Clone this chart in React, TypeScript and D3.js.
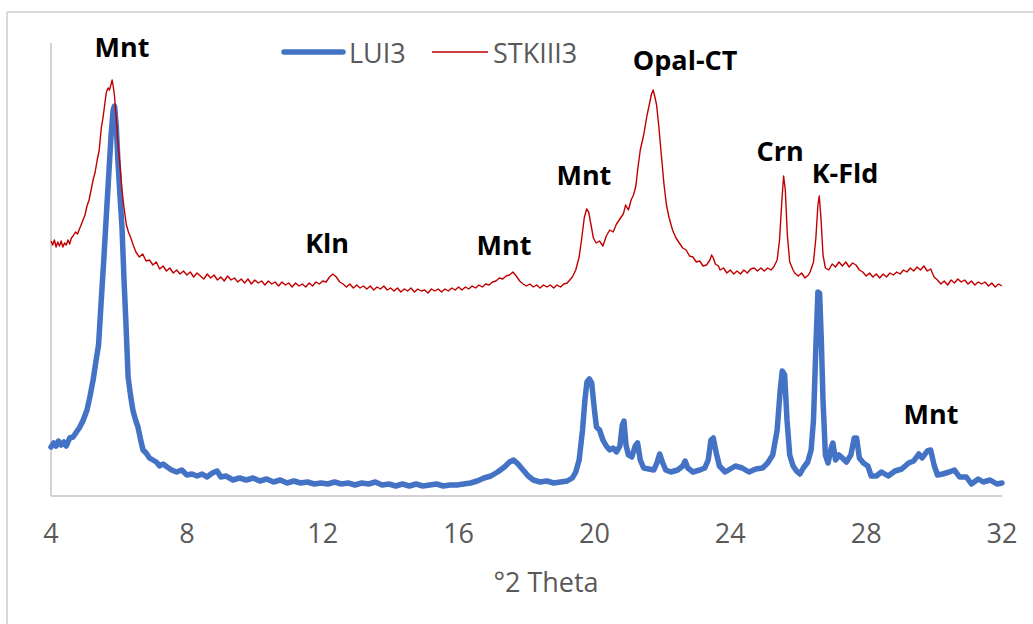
import React from "react";
import * as d3 from "d3";

// ---- data (2θ in degrees, intensity in arbitrary units) ----
const lui3Theta: number[] = [
  4.0, 4.08, 4.15, 4.22, 4.3, 4.38, 4.45, 4.55, 4.65, 4.75, 4.85, 4.95, 5.06, 5.15, 5.24, 5.32, 5.4, 5.48, 5.55, 5.63,
  5.7, 5.77, 5.83, 5.87, 5.92, 5.97, 6.03, 6.09, 6.15, 6.2, 6.27, 6.34, 6.41, 6.49, 6.56, 6.64, 6.71, 6.8, 6.9, 7.0,
  7.1, 7.2, 7.3, 7.42, 7.55, 7.7, 7.85, 8.0, 8.15, 8.3, 8.45, 8.59, 8.75, 8.89, 9.0, 9.15, 9.36, 9.55, 9.75, 9.95,
  10.15, 10.35, 10.55, 10.75, 10.95, 11.15, 11.35, 11.55, 11.75, 11.95, 12.15, 12.35, 12.55, 12.75, 12.95, 13.15, 13.35, 13.55, 13.75, 13.95,
  14.15, 14.35, 14.55, 14.75, 14.95, 15.15, 15.35, 15.55, 15.75, 15.95, 16.15, 16.35, 16.55, 16.75, 16.95, 17.15, 17.35, 17.5, 17.62, 17.75,
  17.9, 18.05, 18.2, 18.4, 18.6, 18.8, 19.0, 19.2, 19.35, 19.45, 19.55, 19.65, 19.72, 19.78, 19.85, 19.92, 20.0, 20.06, 20.15, 20.25,
  20.35, 20.45, 20.55, 20.65, 20.75, 20.82, 20.87, 20.93, 21.0, 21.1, 21.2, 21.27, 21.35, 21.45, 21.6, 21.75, 21.85, 21.92, 22.0, 22.1,
  22.25, 22.45, 22.6, 22.67, 22.75, 22.9, 23.1, 23.25, 23.35, 23.43, 23.5, 23.58, 23.68, 23.85, 24.0, 24.15, 24.35, 24.55, 24.75, 24.95,
  25.1, 25.25, 25.38, 25.47, 25.53, 25.6, 25.67, 25.75, 25.85, 25.95, 26.05, 26.15, 26.28, 26.38, 26.45, 26.52, 26.58, 26.63, 26.68, 26.73,
  26.8, 26.88, 26.97, 27.02, 27.1, 27.2, 27.3, 27.42, 27.55, 27.65, 27.72, 27.8, 27.92, 28.05, 28.15, 28.3, 28.45, 28.65, 28.85, 29.05,
  29.25, 29.4, 29.55, 29.65, 29.8, 29.9, 30.0, 30.1, 30.25, 30.45, 30.6, 30.75, 30.95, 31.1, 31.3, 31.45, 31.65, 31.85, 32.0,
];
const lui3Intensity: number[] = [
  49, 53, 50, 55, 51, 54, 50, 58, 59, 64, 69, 76, 86, 100, 116, 134, 151, 196, 234, 281,
  321, 361, 386, 390, 371, 336, 301, 269, 216, 178, 119, 101, 86, 76, 69, 56, 46, 43, 38, 36,
  34, 30, 32, 29, 26, 24, 26, 21, 22, 20, 22, 19, 23, 25, 19, 20, 16, 18, 16, 18,
  15, 17, 14, 16, 13, 15, 13, 14, 12, 13, 12, 14, 12, 13, 11, 13, 12, 14, 11, 12,
  10, 12, 10, 12, 10, 11, 12, 10, 11, 11, 12, 13, 15, 18, 20, 24, 29, 34, 36, 32,
  26, 20, 16, 14, 15, 13, 14, 15, 18, 24, 36, 66, 96, 114, 117, 113, 86, 69, 66, 56,
  50, 46, 48, 44, 50, 71, 75, 51, 41, 39, 50, 53, 36, 28, 27, 26, 34, 42, 34, 26,
  24, 26, 30, 35, 28, 24, 26, 28, 36, 56, 58, 44, 30, 24, 27, 30, 28, 24, 27, 28,
  33, 41, 66, 106, 125, 121, 76, 41, 30, 25, 22, 28, 34, 46, 76, 149, 204, 203, 156, 96,
  41, 33, 48, 53, 36, 41, 38, 34, 41, 58, 58, 38, 33, 30, 20, 20, 24, 20, 25, 27,
  33, 35, 42, 38, 45, 46, 31, 21, 22, 24, 26, 19, 19, 12, 17, 14, 16, 12, 13,
];

const stkTheta: number[] = [
  // 4.0 – 6.42
  4.0, 4.05, 4.1, 4.15, 4.2, 4.25, 4.3, 4.35, 4.4, 4.45,
  4.5, 4.55, 4.6, 4.65, 4.72, 4.78, 4.85, 4.92, 5.0, 5.06,
  5.12, 5.18, 5.24, 5.3, 5.36, 5.42, 5.48, 5.53, 5.58, 5.63,
  5.68, 5.72, 5.77, 5.8, 5.83, 5.87, 5.92, 5.97, 6.03, 6.09,
  6.15, 6.22, 6.28, 6.35, 6.42,
  // 6.5 – 19.2
  6.5, 6.6, 6.7, 6.8, 6.9, 7.0, 7.1, 7.2, 7.3, 7.4,
  7.5, 7.6, 7.7, 7.8, 7.9, 8.0, 8.1, 8.2, 8.3, 8.4,
  8.5, 8.6, 8.7, 8.8, 8.9, 9.0, 9.1, 9.2, 9.3, 9.4,
  9.5, 9.6, 9.7, 9.8, 9.9, 10.0, 10.1, 10.2, 10.3, 10.4,
  10.5, 10.6, 10.7, 10.8, 10.9, 11.0, 11.1, 11.2, 11.3, 11.4,
  11.5, 11.6, 11.7, 11.8, 11.9, 12.0, 12.1, 12.2, 12.3, 12.4,
  12.5, 12.6, 12.7, 12.8, 12.9, 13.0, 13.1, 13.2, 13.3, 13.4,
  13.5, 13.6, 13.7, 13.8, 13.9, 14.0, 14.1, 14.2, 14.3, 14.4,
  14.5, 14.6, 14.7, 14.8, 14.9, 15.0, 15.1, 15.2, 15.3, 15.4,
  15.5, 15.6, 15.7, 15.8, 15.9, 16.0, 16.1, 16.2, 16.3, 16.4,
  16.5, 16.6, 16.7, 16.8, 16.9, 17.0, 17.1, 17.2, 17.3, 17.4,
  17.5, 17.6, 17.7, 17.8, 17.9, 18.0, 18.1, 18.2, 18.3, 18.4,
  18.5, 18.6, 18.7, 18.8, 18.9, 19.0, 19.1, 19.2,
  // 19.35 – 22.4
  19.35, 19.45, 19.55, 19.62, 19.7, 19.77, 19.83, 19.9, 19.97, 20.05,
  20.15, 20.25, 20.35, 20.45, 20.55, 20.65, 20.75, 20.85, 20.92, 21.0,
  21.08, 21.15, 21.22, 21.28, 21.35, 21.45, 21.55, 21.62, 21.68, 21.73,
  21.78, 21.83, 21.9, 21.97, 22.05, 22.12, 22.2, 22.3, 22.4,
  // 22.5 – 32.0
  22.5, 22.6, 22.7, 22.8, 22.9, 23.0, 23.1, 23.2, 23.3, 23.4,
  23.45, 23.5, 23.56, 23.65, 23.7, 23.8, 23.9, 24.0, 24.1, 24.2,
  24.3, 24.4, 24.5, 24.6, 24.7, 24.8, 24.9, 25.0, 25.1, 25.2,
  25.28, 25.38, 25.45, 25.52, 25.57, 25.62, 25.68, 25.75, 25.85, 25.9,
  26.0, 26.1, 26.2, 26.3, 26.35, 26.45, 26.52, 26.58, 26.62, 26.67,
  26.73, 26.8, 26.9, 27.0, 27.1, 27.2, 27.3, 27.4, 27.5, 27.6,
  27.7, 27.8, 27.9, 28.0, 28.1, 28.2, 28.3, 28.4, 28.5, 28.6,
  28.7, 28.8, 28.9, 29.0, 29.1, 29.2, 29.3, 29.4, 29.5, 29.6,
  29.7, 29.8, 29.9, 30.0, 30.1, 30.2, 30.3, 30.4, 30.5, 30.6,
  30.7, 30.8, 30.9, 31.0, 31.1, 31.2, 31.3, 31.4, 31.5, 31.6,
  31.7, 31.8, 31.9, 32.0,
];
const stkIntensity: number[] = [
  // 4.0 – 6.42
  255, 251, 256, 249, 254, 250, 255, 249, 253, 251,
  256, 252, 258, 260, 264, 262, 268, 274, 281, 290,
  296, 306, 316, 324, 336, 346, 368, 378, 391, 404,
  408, 406, 412, 416, 410, 400, 378, 353, 331, 306,
  288, 271, 264, 258, 251,
  // 6.5 – 19.2
  244, 239, 242, 235, 236, 231, 234, 227, 230, 225,
  228, 223, 226, 222, 225, 221, 224, 219, 223, 220,
  217, 222, 218, 221, 216, 219, 215, 220, 216, 218,
  214, 217, 213, 217, 212, 216, 213, 215, 211, 215,
  212, 214, 210, 214, 211, 213, 209, 213, 210, 212,
  209, 213, 210, 214, 212, 215, 214, 219, 222, 219,
  214, 212, 209, 212, 208, 211, 208, 210, 207, 210,
  206, 209, 207, 210, 206, 208, 205, 208, 204, 207,
  205, 208, 204, 207, 205, 206, 203, 207, 205, 207,
  204, 207, 205, 208, 206, 209, 206, 209, 207, 210,
  208, 211, 209, 212, 211, 214, 215, 218, 217, 220,
  221, 224, 220, 215, 212, 210, 212, 209, 211, 208,
  211, 209, 211, 208, 211, 209, 212, 213,
  // 19.35 – 22.4
  219, 226, 239, 256, 278, 287, 284, 271, 258, 253,
  255, 250, 260, 266, 264, 272, 277, 282, 291, 286,
  296, 301, 310, 328, 346, 361, 381, 392, 402, 406,
  399, 391, 368, 341, 311, 291, 278, 266, 258,
  // 22.5 – 32.0
  253, 248, 246, 240, 239, 234, 235, 230, 231, 236,
  241, 238, 232, 230, 226, 228, 223, 226, 222, 225,
  222, 226, 223, 227, 228, 225, 228, 225, 228, 226,
  229, 236, 256, 296, 320, 306, 261, 234, 226, 223,
  220, 223, 218, 221, 224, 234, 258, 291, 300, 278,
  241, 228, 226, 232, 229, 234, 230, 234, 229, 233,
  231, 226, 224, 220, 223, 219, 222, 218, 222, 219,
  223, 221, 224, 222, 226, 224, 228, 225, 229, 226,
  230, 225, 227, 219, 216, 212, 215, 211, 216, 213,
  217, 214, 216, 212, 215, 211, 214, 212, 214, 210,
  213, 209, 212, 210,
];

const xTicks: number[] = [4, 8, 12, 16, 20, 24, 28, 32];

const seriesNames: string[] = ["LUI3", "STKIII3"];
const seriesColors: string[] = ["#4472C4", "#C00000"];

const peakLabels: string[] = ["Mnt", "Kln", "Mnt", "Mnt", "Opal-CT", "Crn", "K-Fld", "Mnt"];
const peakLabelTheta: number[] = [6.09, 12.13, 17.34, 19.69, 22.67, 25.47, 27.38, 29.91];
const peakLabelIntensity: number[] = [439, 243, 241, 311, 426, 335, 313, 72];

export default function App() {
  const W = 1033;
  const H = 624;
  const left = 51;
  const right = 1002;
  const top = 43;
  const bottom = 496;

  const x = d3.scaleLinear().domain([4, 32]).range([left, right]);
  const y = d3.scaleLinear().domain([0, 453]).range([bottom, top]);

  const line = d3
    .line<[number, number]>()
    .x((d) => x(d[0]))
    .y((d) => y(d[1]));

  const n1 = Math.min(lui3Theta.length, lui3Intensity.length);
  const n2 = Math.min(stkTheta.length, stkIntensity.length);
  const lui3 = lui3Theta.slice(0, n1).map((t, i) => [t, lui3Intensity[i]] as [number, number]);
  const stk = stkTheta.slice(0, n2).map((t, i) => [t, stkIntensity[i]] as [number, number]);

  const font = "'Open Sans', 'DejaVu Sans', sans-serif";
  const gray = "#595959";

  return (
    <svg
      width={W}
      height={H}
      style={{ position: "absolute", left: 0, top: 0, background: "#fff" }}
      fontFamily={font}
    >
      <rect x={0} y={0} width={W} height={H} fill="#fff" />
      {/* chart area border */}
      <line x1={7} y1={12} x2={W} y2={12} stroke="#d9d9d9" strokeWidth={2} />
      <line x1={7} y1={12} x2={7} y2={H} stroke="#d9d9d9" strokeWidth={2} />

      {/* axes */}
      <line x1={left} y1={top} x2={left} y2={bottom} stroke="#c4c4c4" strokeWidth={1.5} />
      <line x1={left} y1={bottom} x2={right} y2={bottom} stroke="#c4c4c4" strokeWidth={1.5} />

      {xTicks.map((t) => (
        <text key={t} x={x(t)} y={543} textAnchor="middle" fontSize={27} fill={gray}>
          {t}
        </text>
      ))}
      <text x={546} y={592} textAnchor="middle" fontSize={27} fill={gray}>
        °2 Theta
      </text>

      {/* series */}
      <path
        d={line(lui3) || ""}
        fill="none"
        stroke={seriesColors[0]}
        strokeWidth={5.5}
        strokeLinejoin="round"
        strokeLinecap="round"
      />
      <path
        d={line(stk) || ""}
        fill="none"
        stroke={seriesColors[1]}
        strokeWidth={1.4}
        strokeLinejoin="round"
      />

      {/* legend */}
      <line x1={284} y1={52} x2={343} y2={52} stroke={seriesColors[0]} strokeWidth={5.5} strokeLinecap="round" />
      <text x={349} y={63} fontSize={27} fill={gray}>
        {seriesNames[0]}
      </text>
      <line x1={432} y1={52} x2={488} y2={52} stroke={seriesColors[1]} strokeWidth={1.4} />
      <text x={493} y={63} fontSize={27} fill={gray}>
        {seriesNames[1]}
      </text>

      {/* peak labels */}
      {peakLabels.map((lab, i) => (
        <text
          key={i}
          x={x(peakLabelTheta[i])}
          y={y(peakLabelIntensity[i])}
          textAnchor="middle"
          fontSize={27}
          fontWeight="bold"
          fill="#000"
        >
          {lab}
        </text>
      ))}
    </svg>
  );
}
